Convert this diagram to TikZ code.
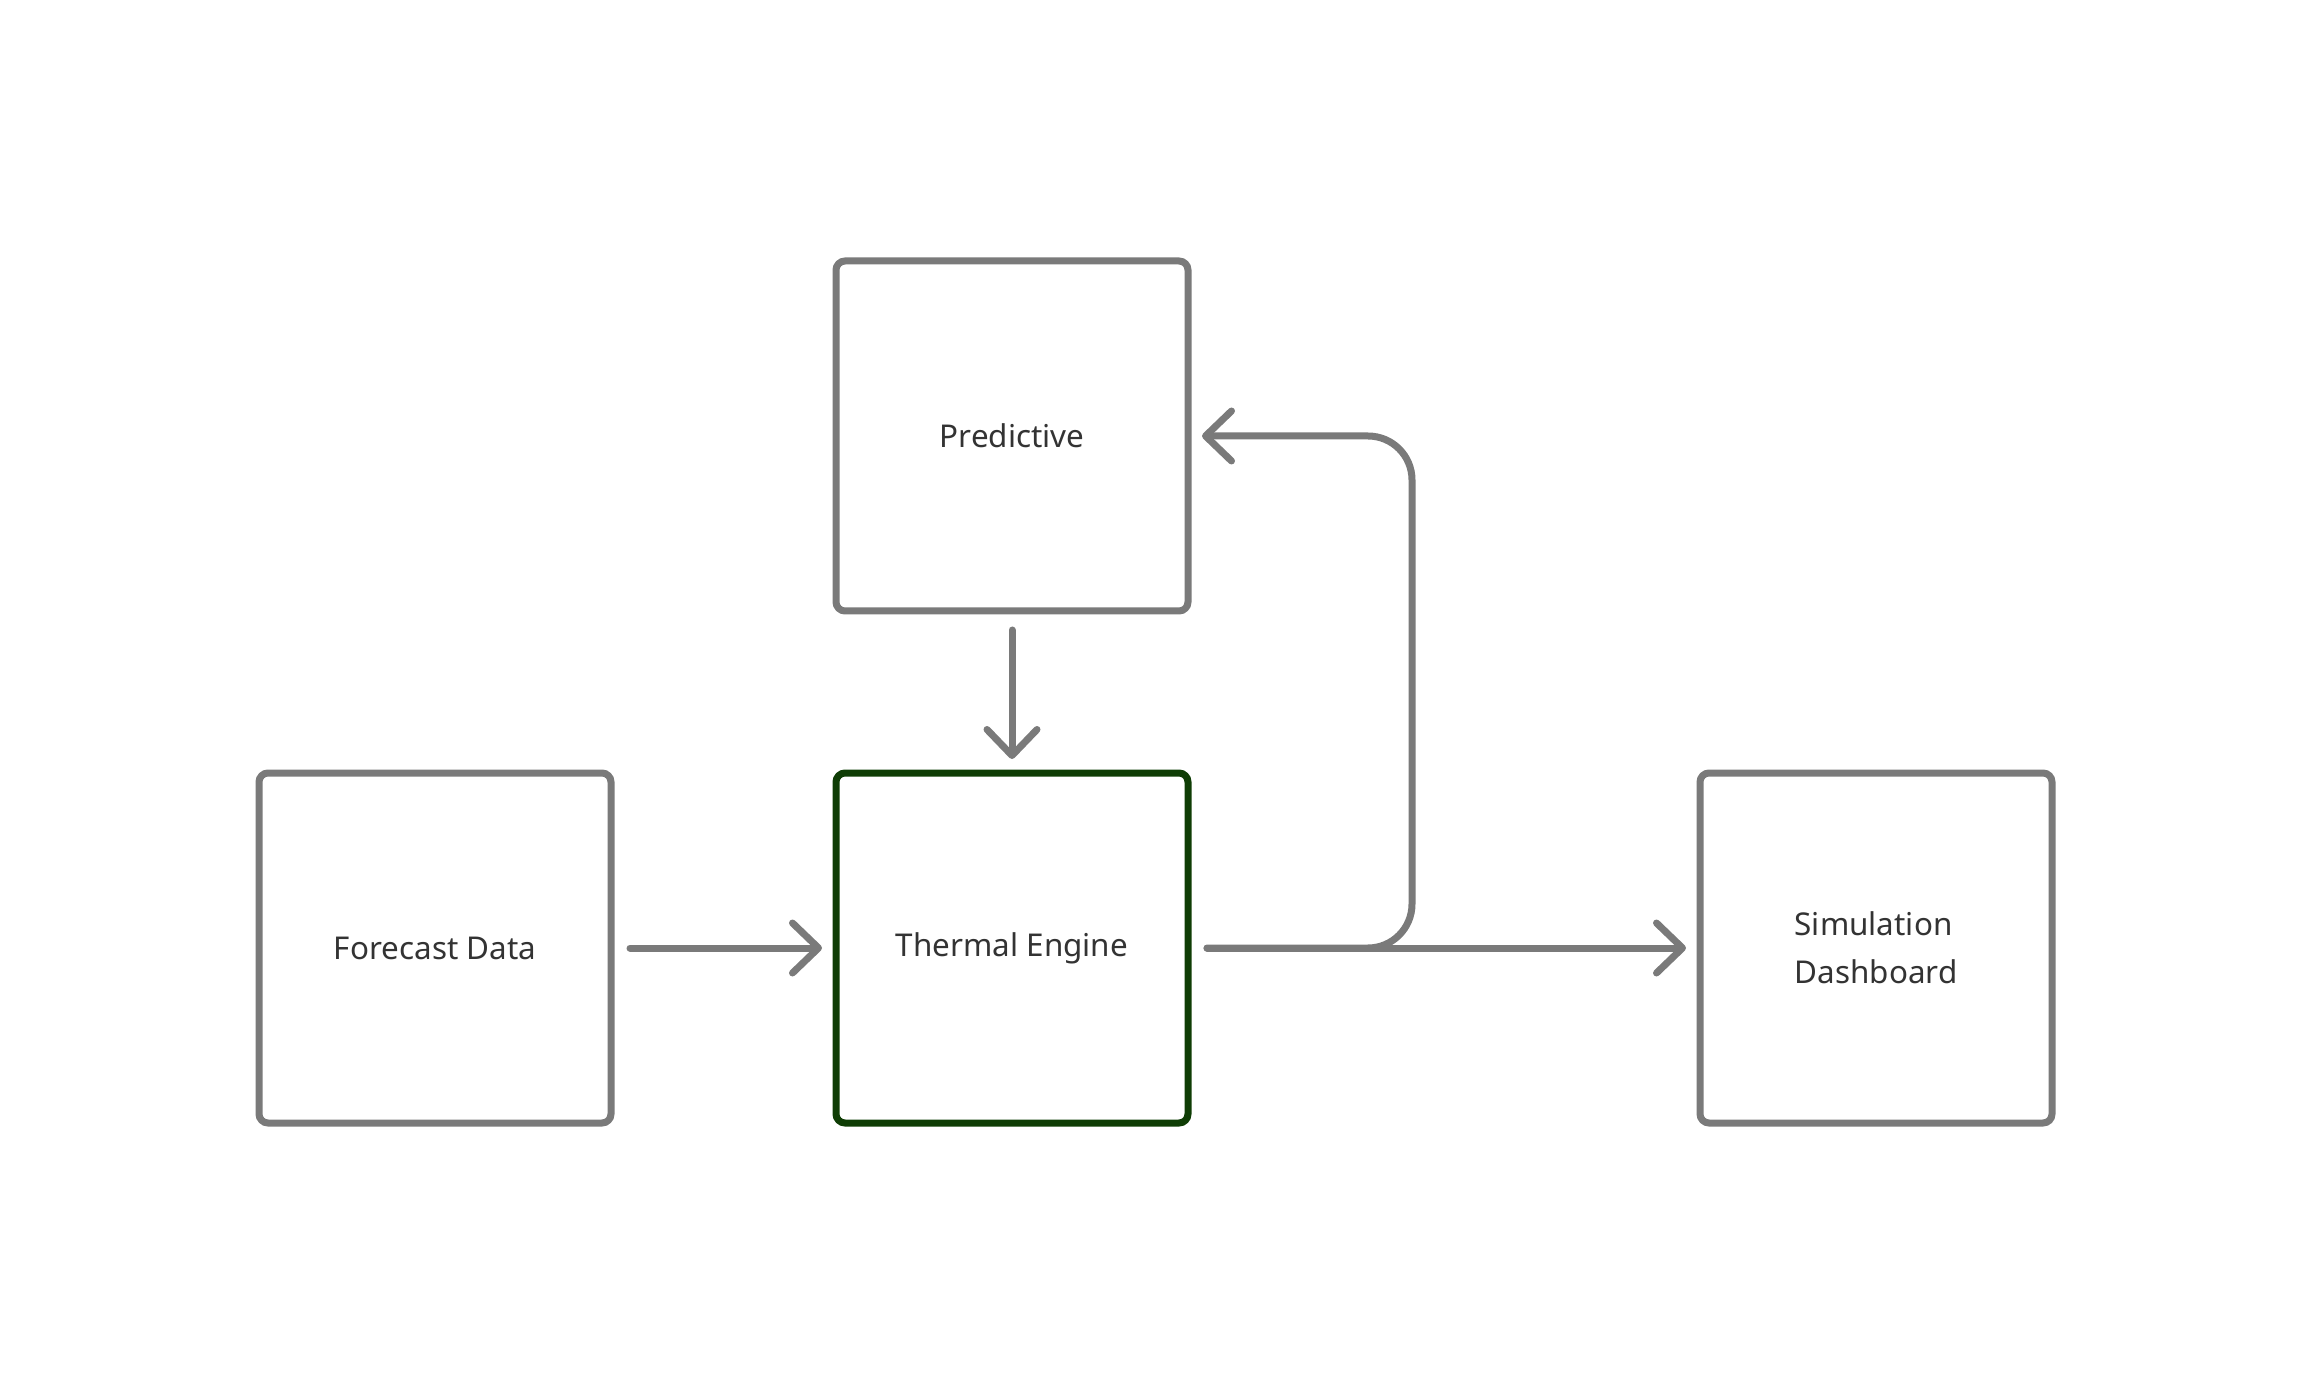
\documentclass[tikz,border=0pt]{standalone}
\usepackage{fontspec}
\setmainfont{Noto Sans}
\usetikzlibrary{positioning,arrows.meta}
\definecolor{linegray}{HTML}{7A7A7A}
\definecolor{enginegreen}{HTML}{0F3D05}
\definecolor{labelgray}{HTML}{333333}

\begin{document}
\begin{tikzpicture}[box/.style={draw=linegray, line width=3.5pt, rounded corners=4.5pt,
                                minimum width=176pt, minimum height=175pt, outer sep=0pt,
                                text=labelgray, font=\fontsize{15.7}{24}\selectfont},
                    flow/.style={draw=linegray, line width=3.5pt, line cap=round,
                                 -{Straight Barb[length=13pt,width=25pt,line cap=round,line join=round]},
                                 shorten <=9.5pt, shorten >=7pt}]
  \useasboundingbox (0,0) rectangle (1156pt,-692pt);
  \node[box, draw=enginegreen] (thermal) at (506pt,-474pt) {Thermal Engine};
  \node[box, left=112.5pt of thermal] (forecast) {Forecast Data};
  \node[box, above=81pt of thermal] (predictive) {Predictive};
  \node[box, right=256pt of thermal, align=left] (dashboard) {Simulation\\Dashboard};
  \coordinate (loop) at (706pt,-350pt);
  \draw[flow] (forecast) -- (thermal);
  \draw[flow] (predictive) -- (thermal);
  \draw[flow] (thermal) -- (dashboard);
  \draw[flow, rounded corners=22pt] (thermal.east) -| (loop) |- (predictive.east);
\end{tikzpicture}
\end{document}
